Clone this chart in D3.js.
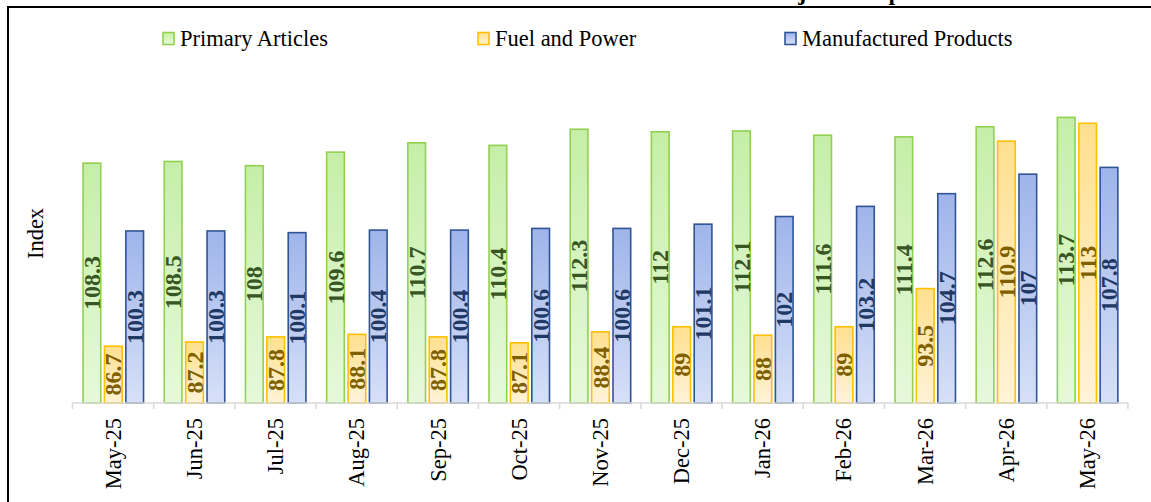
<!DOCTYPE html>
<html>
<head>
<meta charset="utf-8">
<script src="https://cdn.jsdelivr.net/npm/d3@7"></script>
<style>
    body { margin: 0; background: #fff; }
    svg { display: block; font-family: "Liberation Serif", "Times New Roman", serif; }
</style>
</head>
<body>
<svg id="chart" width="1151" height="502"></svg>
<script>
// data
const months = ["May-25", "Jun-25", "Jul-25", "Aug-25", "Sep-25", "Oct-25", "Nov-25",
    "Dec-25", "Jan-26", "Feb-26", "Mar-26", "Apr-26", "May-26"];
const seriesNames = ["Primary Articles", "Fuel and Power", "Manufactured Products"];
const primary = [108.3, 108.5, 108, 109.6, 110.7, 110.4, 112.3, 112, 112.1, 111.6, 111.4, 112.6, 113.7];
const fuel = [86.7, 87.2, 87.8, 88.1, 87.8, 87.1, 88.4, 89, 88, 89, 93.5, 110.9, 113];
const manufactured = [100.3, 100.3, 100.1, 100.4, 100.4, 100.6, 100.6, 101.1, 102, 103.2, 104.7, 107, 107.8];
const yDomain = [80, 120];

const seriesValues = [primary, fuel, manufactured];
const strokes = ["#92d050", "#ffc000", "#2f5597"];
const gradTop = ["#c6eea8", "#ffe08f", "#9fb4ea"];
const gradBottom = ["#e6f9db", "#fff3d8", "#d6e0f7"];
const labelColors = ["#375623", "#7f6000", "#1f3864"];

let svg = d3.select("#chart");

let defs = svg.append("defs");
seriesNames.forEach((s, i) => {
    let g = defs.append("linearGradient")
        .attr("id", "grad" + i)
        .attr("x1", 0).attr("y1", 0).attr("x2", 0).attr("y2", 1);
    g.append("stop").attr("offset", "0%").attr("stop-color", gradTop[i]);
    g.append("stop").attr("offset", "100%").attr("stop-color", gradBottom[i]);
});

// title sits mostly above the frame, only its descenders show
svg.append("text")
    .attr("x", 579)
    .attr("y", 0)
    .attr("font-size", "24px")
    .attr("font-weight", "bold")
    .attr("fill", "#000")
    .text("Trend in Index of Major Groups");

// frame
svg.append("rect")
    .attr("x", 8).attr("y", 7)
    .attr("width", 1160).attr("height", 520)
    .attr("fill", "none")
    .attr("stroke", "#000")
    .attr("stroke-width", 2);

let x0 = d3.scaleBand().domain(months).range([72.5, 1128]).padding(0);
let bw = x0.bandwidth();
let x1 = d3.scaleBand().domain(seriesNames).range([bw * 0.13, bw * 0.875]).paddingInner(0.173);
let y = d3.scaleLinear().domain(yDomain).range([403, 64]);

// bars
seriesNames.forEach((s, i) => {
    let g = svg.append("g");
    g.selectAll("rect")
        .data(seriesValues[i])
        .enter().append("rect")
        .attr("x", (d, j) => x0(months[j]) + x1(s))
        .attr("y", d => y(d))
        .attr("width", x1.bandwidth())
        .attr("height", d => y(yDomain[0]) - y(d))
        .attr("fill", "url(#grad" + i + ")")
        .attr("stroke", strokes[i])
        .attr("stroke-width", 1.6);

    g.selectAll("text")
        .data(seriesValues[i])
        .enter().append("text")
        .attr("transform", (d, j) => {
            let cx = x0(months[j]) + x1(s) + x1.bandwidth() / 2;
            let cy = (y(d) + y(yDomain[0])) / 2;
            return "translate(" + cx + "," + cy + ") rotate(-90)";
        })
        .attr("dy", "0.34em")
        .attr("text-anchor", "middle")
        .attr("font-size", "24px")
        .attr("font-weight", "bold")
        .attr("fill", labelColors[i])
        .text(d => d);
});

// x axis
let xAxis = svg.append("g")
    .attr("transform", "translate(0," + y(yDomain[0]) + ")");
xAxis.append("line")
    .attr("x1", 72.5).attr("x2", 1128)
    .attr("stroke", "#d9d9d9").attr("stroke-width", 1.5);
let edges = months.map(m => x0(m)).concat([x0.range()[1]]);
xAxis.selectAll(".tick")
    .data(edges)
    .enter().append("line")
    .attr("x1", d => d).attr("x2", d => d)
    .attr("y1", 0).attr("y2", 6)
    .attr("stroke", "#d9d9d9").attr("stroke-width", 1.5);
xAxis.selectAll(".lbl")
    .data(months)
    .enter().append("text")
    .attr("transform", d => "translate(" + (x0(d) + bw / 2) + ",15) rotate(-90)")
    .attr("dy", "0.34em")
    .attr("text-anchor", "end")
    .attr("font-size", "22.5px")
    .attr("fill", "#000")
    .text(d => d);

// y title
svg.append("text")
    .attr("transform", "translate(35," + ((y.range()[0] + y.range()[1]) / 2) + ") rotate(-90)")
    .attr("dy", "0.34em")
    .attr("text-anchor", "middle")
    .attr("font-size", "22.5px")
    .attr("fill", "#000")
    .text("Index");

// legend
const legendX = [163, 478, 785];
seriesNames.forEach((s, i) => {
    svg.append("rect")
        .attr("x", legendX[i]).attr("y", 32.5)
        .attr("width", 11).attr("height", 12)
        .attr("fill", "url(#grad" + i + ")")
        .attr("stroke", strokes[i])
        .attr("stroke-width", 1.6);
    svg.append("text")
        .attr("x", legendX[i] + 17)
        .attr("y", 46)
        .attr("font-size", "22.5px")
        .attr("fill", "#000")
        .text(s);
});
</script>
</body>
</html>
